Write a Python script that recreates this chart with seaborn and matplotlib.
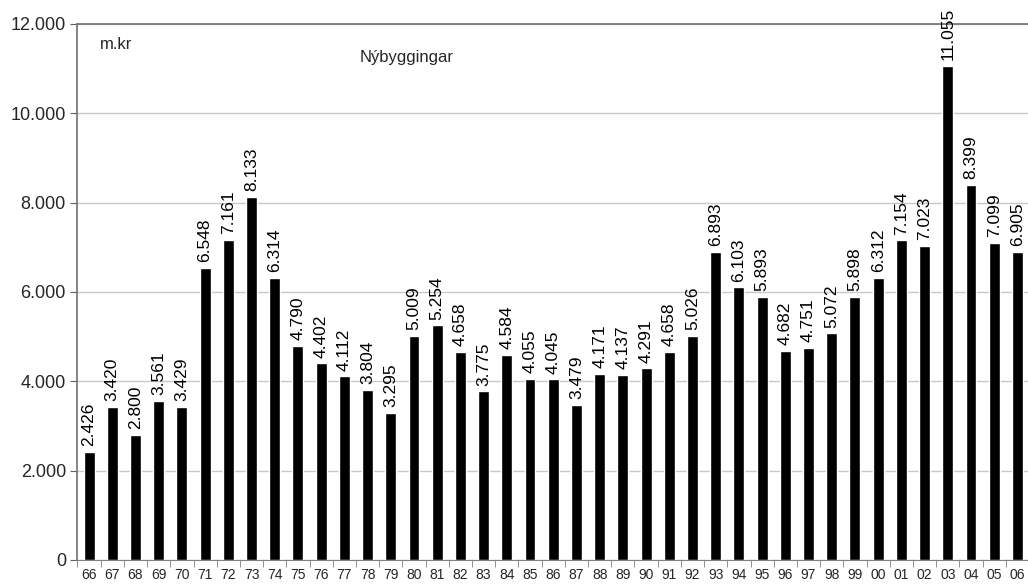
import pandas as pd
import numpy as np
import matplotlib
matplotlib.use("Agg")
import matplotlib.pyplot as plt
import seaborn as sns
from matplotlib.ticker import FuncFormatter, FixedLocator

# data (m.kr)
years = ["66", "67", "68", "69", "70", "71", "72", "73", "74", "75", "76", "77", "78", "79",
         "80", "81", "82", "83", "84", "85", "86", "87", "88", "89", "90", "91", "92", "93",
         "94", "95", "96", "97", "98", "99", "00", "01", "02", "03", "04", "05", "06"]
values = [2426, 3420, 2800, 3561, 3429, 6548, 7161, 8133, 6314, 4790, 4402, 4112, 3804, 3295,
          5009, 5254, 4658, 3775, 4584, 4055, 4045, 3479, 4171, 4137, 4291, 4658, 5026, 6893,
          6103, 5893, 4682, 4751, 5072, 5898, 6312, 7154, 7023, 11055, 8399, 7099, 6905]

df = pd.DataFrame({"ar": years, "upphaed": values})

sns.set_style("white")
plt.rcParams["font.family"] = ["Liberation Sans", "DejaVu Sans"]

fig = plt.figure(figsize=(10.28, 5.88), dpi=100)
ax = fig.add_axes([77 / 1028, 28 / 588, 952 / 1028, 536 / 588])

sns.barplot(data=df, x="ar", y="upphaed", color="black", width=0.47,
            saturation=1, ax=ax, zorder=3)

# value labels, rotated
for i, v in enumerate(values):
    ax.text(i, v + 130, f"{v:,}".replace(",", "."), rotation=90, ha="center", va="bottom",
            fontsize=12.5, color="black", clip_on=False)

ax.set_ylim(0, 12000)
ax.set_xlim(-0.52, len(years) - 0.5)
ax.set_yticks(range(0, 12001, 2000))
ax.yaxis.set_major_formatter(FuncFormatter(lambda x, p: f"{int(x):,}".replace(",", ".")))
ax.yaxis.grid(True, color="#c8c8c8", linewidth=1, zorder=0)
ax.tick_params(axis="y", labelsize=13, length=5, color="#606060", left=True, pad=3)
ax.tick_params(axis="x", which="major", labelsize=10, length=0, pad=6)
ax.xaxis.set_minor_locator(FixedLocator(np.arange(-0.5, len(years), 1.0)))
ax.tick_params(axis="x", which="minor", length=5, color="#808080", bottom=True)

for side in ["left", "top"]:
    ax.spines[side].set_color("#707070")
    ax.spines[side].set_linewidth(1.2)
ax.spines["bottom"].set_color("#808080")
ax.spines["right"].set_visible(False)

ax.set_xlabel("")
ax.set_ylabel("")

ax.text(0.024, 0.962, "m.kr", transform=ax.transAxes, fontsize=12, va="center", ha="left")
ax.text(0.297, 0.937, "Nýbyggingar", transform=ax.transAxes, fontsize=12, va="center", ha="left")

fig.savefig("out.png", dpi=100)
